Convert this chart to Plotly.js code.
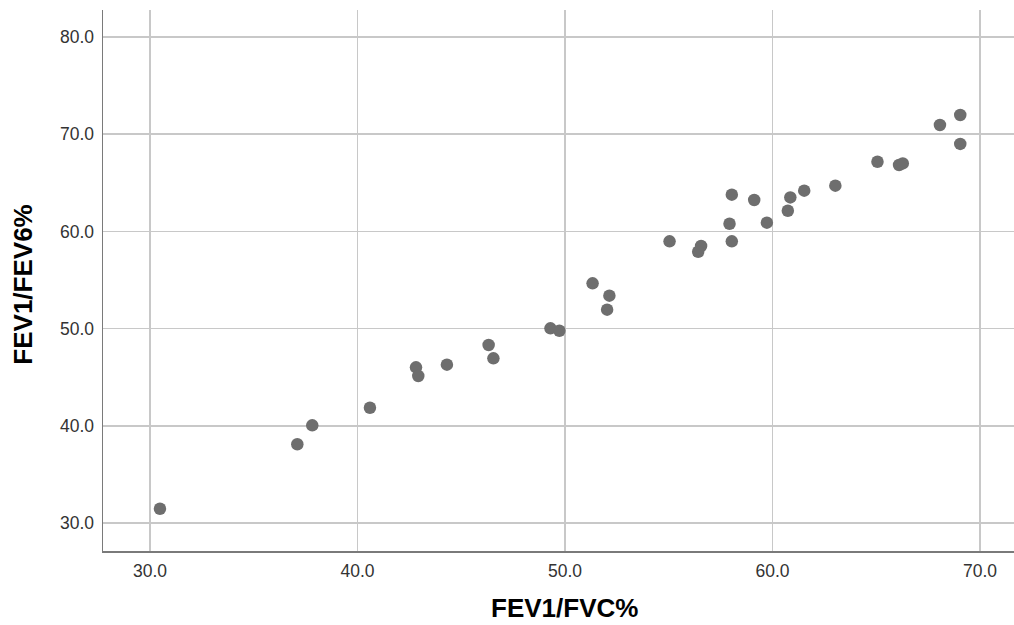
<!DOCTYPE html>
<html>
<head>
<meta charset="utf-8">
<script src="https://cdn.plot.ly/plotly-3.0.1.min.js"></script>
<style>html,body{margin:0;padding:0;background:#fff;}#chart{width:1014px;height:625px;}</style>
</head>
<body>
<div id="chart"></div>
<script>
const fev1fvc = [30.48, 37.10, 37.82, 40.60, 42.82, 42.93, 44.31, 46.32, 46.55, 49.30, 49.73,
  51.33, 52.14, 52.03, 55.04, 56.56, 56.42, 58.04, 57.93, 58.04, 59.12, 59.73, 60.86, 60.74,
  61.53, 63.03, 65.06, 66.10, 66.28, 68.07, 69.05, 69.05];
const fev1fev6 = [31.47, 38.10, 40.05, 41.86, 46.02, 45.12, 46.29, 48.31, 46.94, 50.03, 49.78,
  54.66, 53.39, 51.95, 58.98, 58.50, 57.91, 63.78, 60.79, 58.98, 63.23, 60.90, 63.50, 62.13,
  64.19, 64.71, 67.17, 66.83, 67.00, 70.95, 71.98, 69.00];
const xTicks = [30, 40, 50, 60, 70];
const yTicks = [30, 40, 50, 60, 70, 80];
const xTitle = "FEV1/FVC%";
const yTitle = "FEV1/FEV6%";

const trace = {
  x: fev1fvc, y: fev1fev6, type: "scatter", mode: "markers",
  marker: {color: "#6e6e6e", size: 12.5, line: {width: 0}},
  hoverinfo: "x+y"
};
const tickFont = {family: "Liberation Sans, Arial, sans-serif", size: 17.5, color: "#333"};
const titleFont = {family: "Liberation Sans, Arial, sans-serif", size: 26, color: "#000", weight: "bold"};
const layout = {
  width: 1014, height: 625,
  margin: {l: 103, r: 0, t: 10, b: 74, pad: 0},
  paper_bgcolor: "#fff", plot_bgcolor: "#fff",
  showlegend: false,
  xaxis: {
    range: [27.735, 71.64], tickvals: xTicks, ticktext: xTicks.map(v => v.toFixed(1)),
    showgrid: true, gridcolor: "#c8c8c8", gridwidth: 1.5, zeroline: false,
    showline: true, linecolor: "#7a7a7a", linewidth: 1.5, mirror: false,
    ticks: "", ticklen: 0, tickfont: tickFont, automargin: false, ticklabelstandoff: 3
  },
  yaxis: {
    range: [27.12, 82.78], tickvals: yTicks, ticktext: yTicks.map(v => v.toFixed(1)),
    showgrid: true, gridcolor: "#c8c8c8", gridwidth: 1.5, zeroline: false,
    showline: true, linecolor: "#7a7a7a", linewidth: 1.5, mirror: false,
    ticks: "", ticklen: 0, tickfont: tickFont, automargin: false, ticklabelstandoff: 4
  },
  annotations: [
    {text: "<b>" + xTitle + "</b>", xref: "paper", yref: "paper", x: 0.507, y: -0.1365,
     xanchor: "center", yanchor: "bottom", showarrow: false, font: titleFont},
    {text: "<b>" + yTitle + "</b>", xref: "paper", yref: "paper", x: -0.088, y: 0.492,
     xanchor: "center", yanchor: "middle", textangle: -90, showarrow: false, font: titleFont}
  ]
};
Plotly.newPlot("chart", [trace], layout, {displayModeBar: false, staticPlot: true});
</script>
</body>
</html>
